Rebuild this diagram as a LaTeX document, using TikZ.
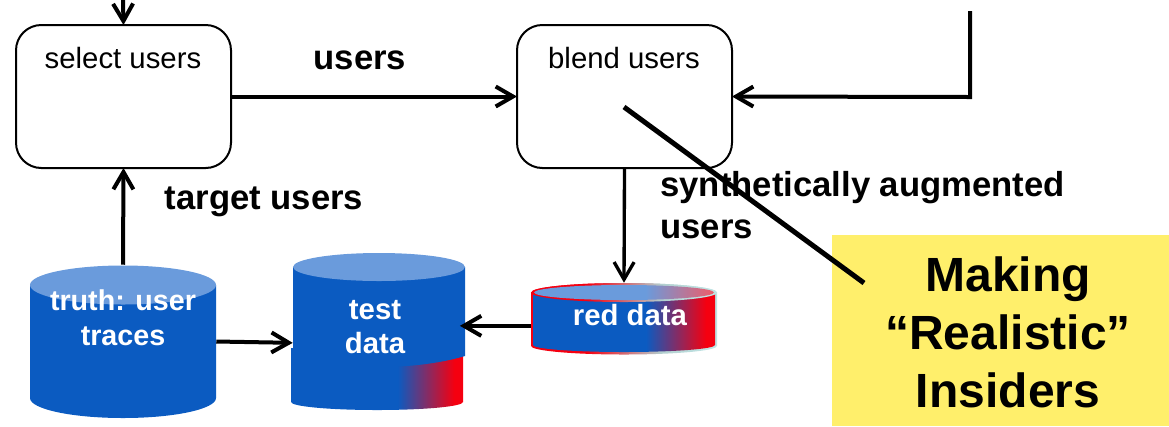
\documentclass[tikz,border=0pt]{standalone}
\usepackage{fontspec}
\setmainfont{Liberation Sans}
\usetikzlibrary{arrows.meta}

\definecolor{drumblue}{HTML}{0B5BC1}
\definecolor{drumtop}{HTML}{6A9BDC}
\definecolor{drumred}{HTML}{F50010}
\definecolor{toppink}{HTML}{E8606F}
\definecolor{rimpale}{HTML}{BFE3E3}
\definecolor{noteyellow}{HTML}{FFEF6B}

\pgfdeclarehorizontalshading{bodyshade}{100bp}{color(0bp)=(drumblue); color(56bp)=(drumblue); color(72.5bp)=(drumred); color(100bp)=(drumred)}
\pgfdeclarehorizontalshading{topshade}{100bp}{color(0bp)=(drumtop); color(56bp)=(drumtop); color(74bp)=(toppink); color(100bp)=(toppink)}
\pgfdeclarehorizontalshading{rimshade}{100bp}{color(0bp)=(drumred); color(40bp)=(drumred); color(60bp)=(rimpale!80!gray); color(72bp)=(rimpale); color(100bp)=(rimpale)}

\tikzset{
    userbox/.style={rectangle, draw, line width=1.5pt, outer sep=0pt, rounded corners=19pt, minimum width=161.25pt, minimum height=107.25pt},
    boxtext/.style={font=\fontsize{22}{26}\selectfont},
    flowtext/.style={inner sep=0pt, font=\fontsize{26}{31}\selectfont\bfseries},
    drumtext/.style={text=white, align=center, font=\fontsize{22}{26}\selectfont\bfseries},
    flow/.style={->, line width=3pt},
}

\begin{document}
\begin{tikzpicture}[x=0.75pt, y=-0.75pt, >={Straight Barb[length=13pt, width=15pt]}]
    \useasboundingbox (0,0) rectangle (1169,426);

    \node[fill=noteyellow, inner sep=0pt, minimum width=252.75pt, minimum height=143.25pt] (note) at (1000.5,330.5) {};

    \node[userbox] (select) at (123.5,96.5) {};
    \node[userbox] (blend) at (624.5,96.5) {};
    \node[boxtext] (select text) at (123,58) {select users};
    \node[boxtext] (blend text) at (624,58) {blend users};

    % truth drum
    \node[inner sep=0pt, minimum width=139.5pt, minimum height=114.75pt] (truth) at (123,341.5) {};
    \fill[drumblue] (30,285) -- (30,398) arc[start angle=180, end angle=0, x radius=93, y radius=20] -- (216,285) -- cycle;
    \fill[drumtop] (123,285) ellipse [x radius=93, y radius=19.5];

    % test drum, lower part first
    \node[inner sep=0pt, minimum width=129pt, minimum height=117.75pt] (test) at (379,331.5) {};
    \shade[shading=bodyshade] (291,348) -- (291,402) arc[start angle=180, end angle=0, x radius=86, y radius=8] -- (463,348) -- cycle;
    \fill[drumblue] (293,267) -- (293,350) -- (379,367) .. controls (415,367) and (445,362) .. (465,356) -- (465,267) -- cycle;
    \fill[drumtop] (379,267) ellipse [x radius=86, y radius=14];

    % red drum
    \node[inner sep=0pt, minimum width=139.5pt, minimum height=53.25pt] (red) at (624,318.5) {};
    \shade[shading=rimshade] (531,292.5) -- (531,346) arc[start angle=180, end angle=0, x radius=93, y radius=8.5] -- (717,292.5) arc[start angle=0, end angle=-180, x radius=93, y radius=9.5] -- cycle;
    \shade[shading=bodyshade] (533,292.5) -- (533,345) arc[start angle=180, end angle=0, x radius=91, y radius=7] -- (715,292.5) -- cycle;
    \shade[shading=rimshade] (624,292.5) ellipse [x radius=93, y radius=9.5];
    \shade[shading=topshade] (624,292.5) ellipse [x radius=90, y radius=7.5];

    \node[drumtext, font=\fontsize{21.5}{26}\selectfont\bfseries] (truth text) at (123,318) {truth: user\\[0pt]traces};
    \node[drumtext] (test text) at (375,327) {test\\[0pt]data};
    \node[drumtext] (red text) at (630,315) {red data};

    \node[flowtext] (users) at (360,60) {users};
    \node[flowtext] (target) at (264,202) {target users};
    \node[flowtext, align=left, anchor=west] (augmented) at (660,205) {synthetically augmented\\users};
    \node[align=center, font=\fontsize{36}{43.5}\selectfont\bfseries] (making) at (1008,332.5) {Making\\“Realistic”\\Insiders};

    \coordinate (in top) at (123,0);
    \coordinate (side top) at (970,11);
    \coordinate (side corner) at (970,97);
    \coordinate (note start) at (624,107);
    \coordinate (note end) at (864,283);

    \draw[flow] (in top) -- (select.north);
    \draw[flow] (select.east) -- (blend.west);
    \draw[flow] (side top) -- (side corner) -- (blend.east);
    \draw[flow] (truth.north) -- (select.south);
    \draw[flow] (truth.east) -- ([yshift=-1pt]test.west |- truth.east);
    \draw[flow] ([yshift=-5.5pt]red.west) -- ([yshift=-5.5pt, xshift=-4pt]test.east |- red.west);
    \draw[flow, line width=2.5pt] (blend.south) -- (red.north);
    \draw[line width=3.75pt] (note start) -- (note end);
\end{tikzpicture}
\end{document}
